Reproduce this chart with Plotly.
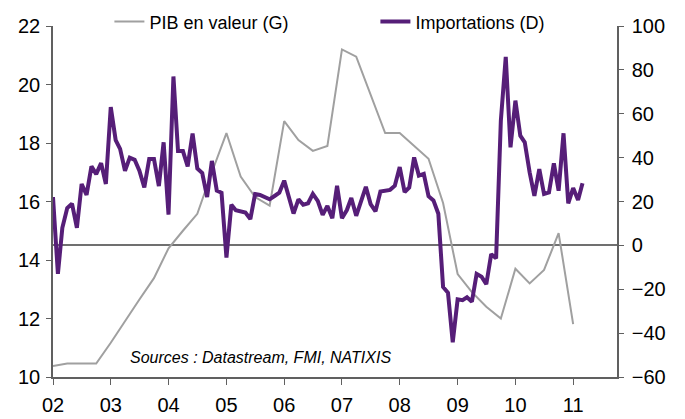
import pandas as pd
import plotly.graph_objects as go

# ---- data ----
months = pd.date_range("2002-01-01", periods=111, freq="MS").strftime("%Y-%m-%d").tolist()
importations = [
    22, -13, 8, 17, 19, 8, 28, 23, 36, 32.5, 37.5, 28,          # 2002
    63, 48, 44, 34, 40, 39, 34, 26.4, 39.4, 39.4, 27, 47,       # 2003
    14, 77, 43, 43, 36, 51, 35, 33, 22, 38.5, 25, 24,           # 2004
    -5.6, 18.5, 16, 15.5, 15, 12, 23.4, 23, 22, 21, 22.5, 24,   # 2005
    29.5, 22, 14.5, 21, 18.5, 19.2, 23.5, 20.3, 13.9, 18, 12.4, 27.2,  # 2006
    12.4, 16.1, 21.6, 13.5, 20, 26.7, 18.8, 15.5, 24.6, 25, 25.3, 27.2,  # 2007
    35.7, 24.3, 26.4, 40.1, 31.8, 32.6, 22.4, 20.5, 14.4, -19, -21.6, -44.2,  # 2008
    -24.6, -25, -23.7, -25.7, -13, -14.3, -17.7, -4, -5.9, 56.9, 85.9, 44.7,  # 2009
    66, 50, 47, 33.3, 22.6, 34.8, 23.4, 24.1, 37.4, 24.9, 51.1, 19.1,  # 2010
    26.1, 20.7, 28.3,                                            # 2011
]

quarters = pd.date_range("2002-01-01", periods=37, freq="QS").strftime("%Y-%m-%d").tolist()
pib_valeur = [
    10.38, 10.46, 10.46, 10.46,
    11.17, 11.92, 12.65, 13.38,
    14.4, 15.0, 15.58, 17.0,
    18.34, 16.85, 16.15, 15.86,
    18.75, 18.1, 17.73, 17.9,
    21.2, 20.95, 19.65, 18.34,
    18.34, 17.9, 17.46, 15.95,
    13.52, 12.9, 12.4, 12.0,
    13.7, 13.2, 13.66, 14.92,
    11.81,
]

year_ticks = [f"{y}-01-01" for y in range(2002, 2012)]
year_labels = [f"{y % 100:02d}" for y in range(2002, 2012)]

FONT = "Liberation Sans, Arial, sans-serif"
AXIS_COLOR = "#606060"

fig = go.Figure()
fig.add_trace(go.Scatter(
    x=quarters, y=pib_valeur, name="PIB en valeur (G)", mode="lines",
    line=dict(color="#A0A0A0", width=2), yaxis="y",
))
fig.add_trace(go.Scatter(
    x=months, y=importations, name="Importations (D)", mode="lines",
    line=dict(color="#561E78", width=4), yaxis="y2",
))

fig.update_layout(
    width=685, height=419,
    margin=dict(l=53, r=68, t=26, b=42, autoexpand=False),
    paper_bgcolor="white", plot_bgcolor="white",
    font=dict(family=FONT, size=20, color="black"),
    showlegend=True,
    legend=dict(
        orientation="h", x=0.100, xanchor="left", y=1.012, yanchor="middle",
        bgcolor="rgba(0,0,0,0)", font=dict(size=18),
        entrywidthmode="pixels", entrywidth=221, itemclick=False,
    ),
    xaxis=dict(
        type="date", range=["2002-01-01", "2011-10-05"],
        tickmode="array", tickvals=year_ticks, ticktext=year_labels,
        ticks="outside", ticklen=6, tickcolor=AXIS_COLOR,
        showline=True, linecolor=AXIS_COLOR, linewidth=1.5,
        showgrid=False, zeroline=False, tickfont=dict(size=20),
        ticklabelstandoff=3,
    ),
    yaxis=dict(
        range=[10, 22], dtick=2, tick0=10,
        ticks="outside", ticklen=5, tickcolor=AXIS_COLOR,
        showline=True, linecolor=AXIS_COLOR, linewidth=1.5,
        showgrid=False, zeroline=False, tickfont=dict(size=20),
        ticklabelstandoff=2,
    ),
    yaxis2=dict(
        range=[-60, 100], dtick=20, tick0=-60,
        overlaying="y", side="right",
        ticks="outside", ticklen=5, tickcolor=AXIS_COLOR,
        showline=True, linecolor=AXIS_COLOR, linewidth=1.5,
        showgrid=False, zeroline=True, zerolinecolor="#707070", zerolinewidth=1.5,
        tickfont=dict(size=20), ticklabelstandoff=4,
    ),
    annotations=[dict(
        text="<i>Sources : Datastream, FMI, NATIXIS</i>",
        xref="paper", yref="paper", x=0.133, y=0.056,
        xanchor="left", yanchor="middle", showarrow=False,
        font=dict(size=16, family=FONT, color="black"),
    )],
)

fig.write_html(
    "out.html",
    config={"displayModeBar": False},
    post_script="document.body.style.margin='0';document.body.style.overflow='hidden';",
)
